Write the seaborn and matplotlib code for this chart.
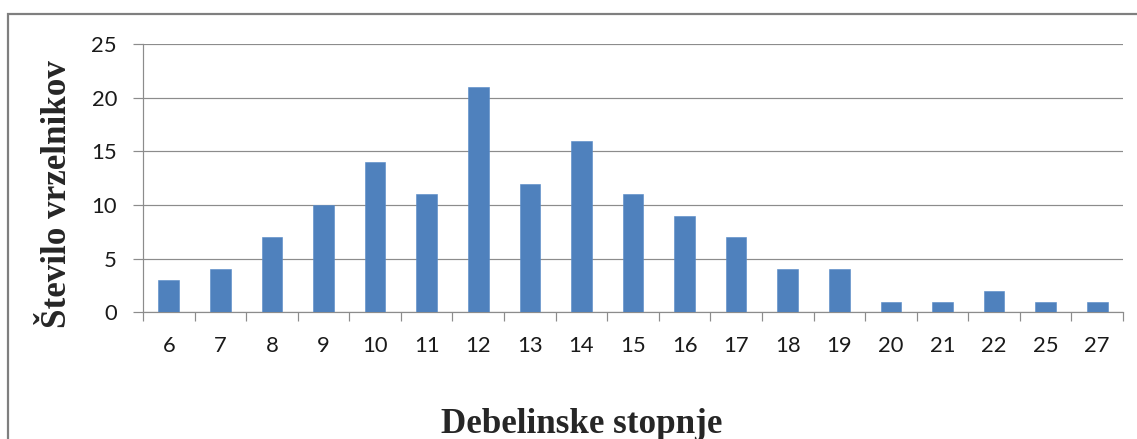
import matplotlib
matplotlib.use("Agg")
import matplotlib.pyplot as plt
import seaborn as sns
from matplotlib.patches import Rectangle
from matplotlib.ticker import FixedLocator

categories = ["6", "7", "8", "9", "10", "11", "12", "13", "14", "15",
              "16", "17", "18", "19", "20", "21", "22", "25", "27"]
counts = [3, 4, 7, 10, 14, 11, 21, 12, 16, 11, 9, 7, 4, 4, 1, 1, 2, 1, 1]
y_ticks = [0, 5, 10, 15, 20, 25]
y_title = "Število vrzelnikov"
x_title = "Debelinske stopnje"

sns.set_theme(style="white")
plt.rcParams["font.family"] = ["Lato", "DejaVu Sans"]

W, H = 1137, 439
DPI = 72
fig = plt.figure(figsize=(W / DPI, H / DPI), dpi=DPI)
fig.patch.set_facecolor("white")

left, right, top, bottom = 143, 1123, 44, 312.3
ax = fig.add_axes([left / W, (H - bottom) / H, (right - left) / W, (bottom - top) / H])

sns.barplot(x=categories, y=counts, color="#4F81BD", saturation=1, width=0.4,
            edgecolor="#5B8DC9", linewidth=0.6, ax=ax, zorder=3)

grid_c = "#8C8C8C"
ax.set_ylim(0, 25)
ax.set_xlim(-0.5, len(categories) - 0.5)
ax.set_yticks(y_ticks)
ax.yaxis.grid(True, color=grid_c, linewidth=1.2, zorder=0)
ax.xaxis.grid(False)
for s in ["top", "right"]:
    ax.spines[s].set_visible(False)
for s in ["left", "bottom"]:
    ax.spines[s].set_color(grid_c)
    ax.spines[s].set_linewidth(1.2)

ax.tick_params(axis="y", which="major", left=True, length=10, width=1.2,
               color=grid_c, pad=16, labelsize=22, labelcolor="#1a1a1a")
ax.tick_params(axis="x", which="major", bottom=False, length=0, pad=24,
               labelsize=22, labelcolor="#1a1a1a")
ax.xaxis.set_minor_locator(FixedLocator([i - 0.5 for i in range(len(categories) + 1)]))
ax.tick_params(axis="x", which="minor", bottom=True, length=9, width=1.2, color=grid_c)
ax.set_xlabel("")
ax.set_ylabel("")

fig.text(58 / W, 1 - 194 / H, y_title, rotation=90, ha="center", va="center",
         fontsize=35, fontweight="bold", family=["Liberation Serif", "DejaVu Serif"])
fig.text(582 / W, (H - 433) / H, x_title, ha="center", va="baseline",
         fontsize=35, fontweight="bold", family=["Liberation Serif", "DejaVu Serif"])

frame = Rectangle((8 / W, -0.2), 1.2, 1.2 - 14 / H, transform=fig.transFigure,
                  fill=False, edgecolor="#7F7F7F", linewidth=2.2)
fig.patches.append(frame)

fig.savefig("out.png", dpi=DPI)
